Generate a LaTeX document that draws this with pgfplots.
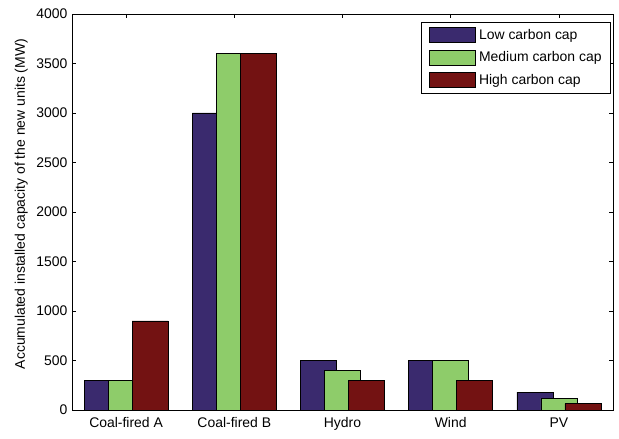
\documentclass[border=0pt]{standalone}
\usepackage{fontspec}
\setmainfont{Liberation Sans}
\usepackage{pgfplots}
\pgfplotsset{compat=1.18}

\definecolor{lowc}{RGB}{58,42,110}
\definecolor{medc}{RGB}{142,204,106}
\definecolor{highc}{RGB}{115,18,18}

\begin{document}
\begin{tikzpicture}
\begin{axis}[
  name=ax,
  scale only axis,
  width=541bp, height=396bp,
  xmin=0.5, xmax=5.5, ymin=0, ymax=4000,
  ybar, bar width=0.333,
  xtick={1,2,3,4,5},
  xticklabels={Coal-fired A, Coal-fired B, Hydro, Wind, PV},
  ytick={0,500,...,4000},
  tick align=inside, major tick length=4bp,
  tick style={black, line width=0.6bp},
  axis line style={line width=0.9bp},
  font=\fontsize{14}{16}\selectfont,
  xticklabel style={yshift=-4bp},
  yticklabel style={xshift=-1bp},
  /pgf/number format/assume math mode=true,
  /pgf/number format/1000 sep={},
  ylabel={Accumulated installed capacity of the new units (MW)},
  ylabel style={at={(axis description cs:-0.094,0.52)}, anchor=center},
  legend cell align=left,
  legend style={at={(rel axis cs:0.996,0.98)}, anchor=north east,
    draw=black, line width=0.6bp, font=\fontsize{14}{16}\selectfont,
    row sep=7bp, inner xsep=7bp, inner ysep=5bp},
  legend image code/.code={\draw[#1] (0bp,-7.5bp) rectangle (46bp,7.5bp);
    \path (48bp,0bp);},
]
\addplot[bar shift=-0.222, fill=lowc, draw=black, line width=0.5bp]
  coordinates {(1,300) (2,3000) (3,500) (4,500) (5,180)};
\addplot[bar shift=0, fill=medc, draw=black, line width=0.5bp]
  coordinates {(1,300) (2,3600) (3,400) (4,500) (5,120)};
\addplot[bar shift=0.222, fill=highc, draw=black, line width=0.5bp]
  coordinates {(1,900) (2,3600) (3,300) (4,300) (5,65)};
\legend{Low carbon cap, Medium carbon cap, High carbon cap}
\end{axis}
\pgfresetboundingbox
\path[use as bounding box] ([shift={(-72bp,-29bp)}]ax.south west)
  rectangle ([shift={(6bp,14bp)}]ax.north east);
\end{tikzpicture}
\end{document}
